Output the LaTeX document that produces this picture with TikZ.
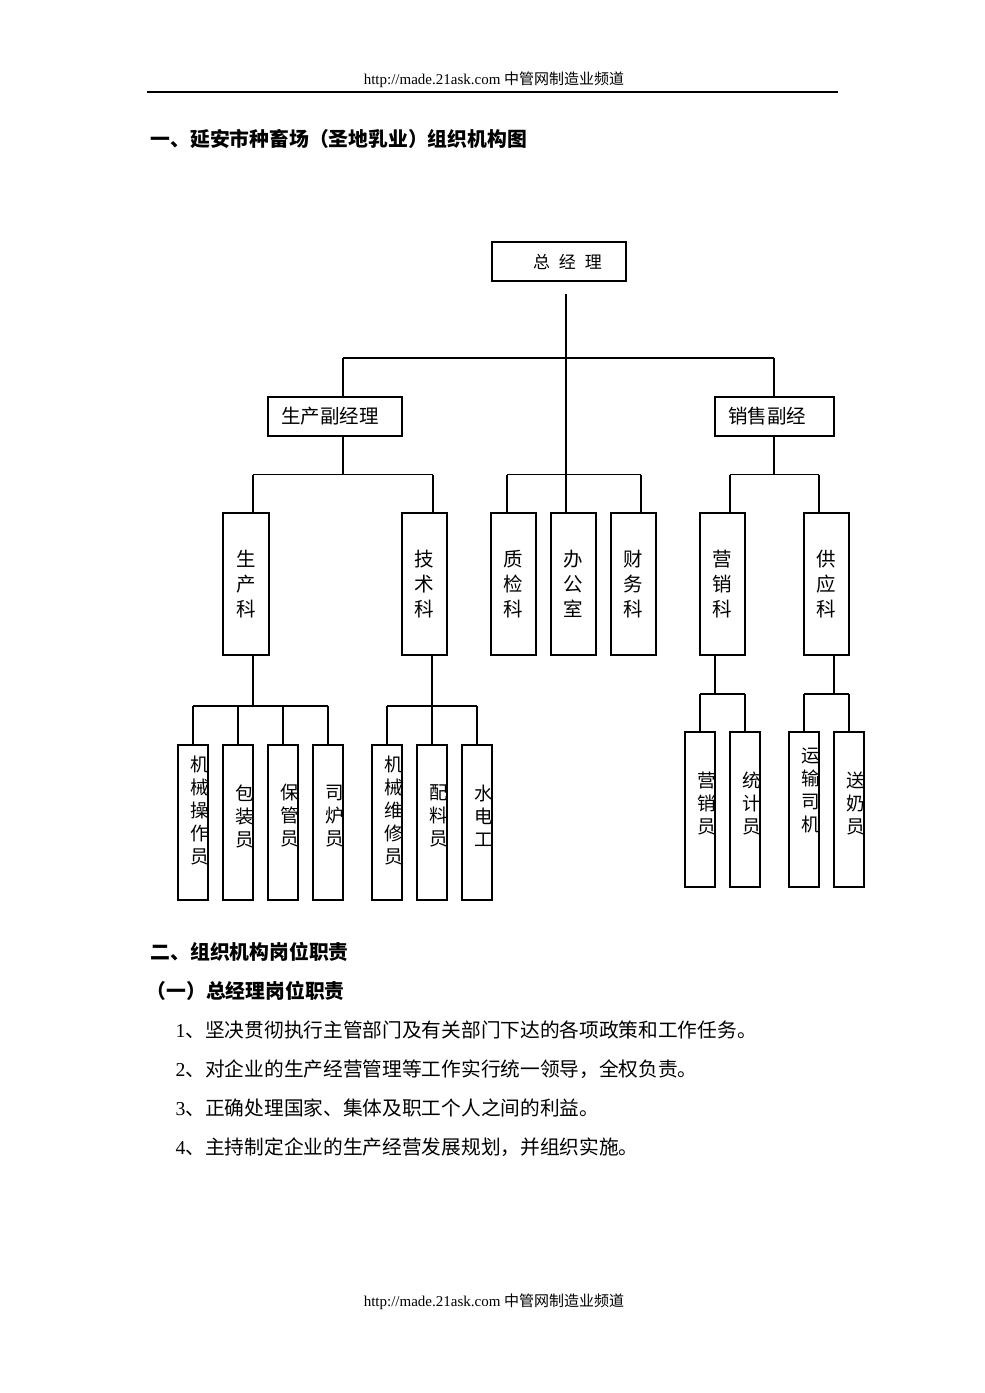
\documentclass[tikz,border=0pt]{standalone}
\usepackage{fontspec}
\setmainfont{Liberation Serif}
\newfontfamily\cjk{Noto Sans CJK SC}
\tikzset{
  box/.style={draw, line width=1.3pt, inner sep=0pt, align=center,
    font=\cjk\fontsize{19.5}{25}\selectfont},
  vpbox/.style={box, minimum height=39pt, text width=#1, inner xsep=13pt, align=left},
  dept/.style={box, minimum width=45pt, minimum height=142pt},
  leaf/.style={draw, line width=1.3pt, inner sep=0pt, minimum width=30pt, minimum height=155pt},
  leaftext/.style={inner sep=0pt, align=center, xshift=7pt,
    font=\cjk\fontsize{18.5}{23}\selectfont},
  head/.style={anchor=west, inner sep=0pt, font=\cjk\bfseries\fontsize{19.8}{24}\selectfont},
  item/.style={anchor=west, inner sep=0pt, font=\cjk\fontsize{19.7}{24}\selectfont},
  pagenote/.style={inner sep=0pt, font=\fontsize{15}{18}\selectfont}
}
\begin{document}
\begin{tikzpicture}[x=1pt, y=-1pt, line width=1.3pt]
  \useasboundingbox (0,0) rectangle (985,1393);

  % 页眉与页脚
  \node[pagenote] (hdr) at (494,80) {http://made.21ask.com {\cjk 中管网制造业频道}};
  \draw[line width=1.8pt] (147,92) coordinate (hl) -- (838,92) coordinate (hr);
  \node[pagenote] (ftr) at (494,1302) {http://made.21ask.com {\cjk 中管网制造业频道}};

  % 标题
  \node[head] (t1) at (150,139) {一、延安市种畜场（圣地乳业）组织机构图};

  % 领导层
  \node[box, minimum width=134pt, minimum height=39pt, align=left,
        font=\cjk\fontsize{17}{20}\selectfont] (zjl) at (559,261.5)
        {\hspace*{17pt}总\hspace{9pt}经\hspace{9pt}理};
  \node[vpbox=108pt] (scfj) at (335,416.5) {生产副经理};
  \node[vpbox=93pt] (xsfj) at (774.5,416.5) {销售副经};

  % 各科室
  \node[dept, minimum width=46pt] (sck) at (246,584) {生\\产\\科};
  \node[dept] (jsk) at (424.5,584) {技\\术\\科};
  \node[dept] (zjk) at (513.5,584) {质\\检\\科};
  \node[dept] (bgs) at (573.5,584) {办\\公\\室};
  \node[dept] (cwk) at (633.5,584) {财\\务\\科};
  \node[dept] (yxk) at (722.5,584) {营\\销\\科};
  \node[dept] (gyk) at (826.5,584) {供\\应\\科};

  % 基层岗位
  \node[leaf, label={[leaftext, yshift=12.5pt]center:机\\械\\操\\作\\员}] (jxcz) at (193,822.5) {};
  \node[leaf, label={[leaftext, yshift=6.5pt]center:包\\装\\员}] (bzy) at (238,822.5) {};
  \node[leaf, label={[leaftext, yshift=6.5pt]center:保\\管\\员}] (bgy) at (283,822.5) {};
  \node[leaf, label={[leaftext, yshift=6.5pt]center:司\\炉\\员}] (sly) at (328,822.5) {};
  \node[leaf, label={[leaftext, yshift=12.5pt]center:机\\械\\维\\修\\员}] (jxwx) at (387,822.5) {};
  \node[leaf, label={[leaftext, yshift=6.5pt]center:配\\料\\员}] (ply) at (432,822.5) {};
  \node[leaf, label={[leaftext, yshift=6.5pt]center:水\\电\\工}] (sdg) at (477,822.5) {};
  \node[leaf, label={[leaftext, yshift=6.5pt]center:营\\销\\员}] (yxy) at (700,809.5) {};
  \node[leaf, label={[leaftext, yshift=6.5pt]center:统\\计\\员}] (tjy) at (745,809.5) {};
  \node[leaf, label={[leaftext, yshift=19pt]center:运\\输\\司\\机}] (yssj) at (804,809.5) {};
  \node[leaf, label={[leaftext, yshift=6.5pt]center:送\\奶\\员}] (sny) at (849,809.5) {};

  % 连线：总经理以下
  \coordinate (top) at (566,294);
  \draw (top) -- (top |- bgs.north);
  \draw (343,358) -- (774,358);
  \draw (343,358) -- (343,358 |- scfj.north);
  \draw (774,358) -- (774,358 |- xsfj.north);

  % 连线：副经理以下
  \draw (343,358 |- scfj.south) -- (343,474.5);
  \draw (774,358 |- xsfj.south) -- (774,474.5);
  \draw (253,474.5) -- (433,474.5);
  \draw (507,474.5) -- (641,474.5);
  \draw (730,474.5) -- (819,474.5);
  \foreach \x/\n in {253/sck, 433/jsk, 507/zjk, 641/cwk, 730/yxk, 819/gyk}
    \draw (\x,474.5) -- (\x,474.5 |- \n.north);

  % 连线：科室以下
  \draw (253,0 |- sck.south) -- (253,706);
  \draw (432,0 |- jsk.south) -- (432,706);
  \draw (715,0 |- yxk.south) -- (715,694);
  \draw (834,0 |- gyk.south) -- (834,694);
  \draw (193,706) -- (328,706);
  \draw (387,706) -- (477,706);
  \draw (700,694) -- (745,694);
  \draw (804,694) -- (849,694);
  \foreach \x/\n in {193/jxcz, 238/bzy, 283/bgy, 328/sly, 387/jxwx, 432/ply, 477/sdg}
    \draw (\x,706) -- (\n.north);
  \foreach \x/\n in {700/yxy, 745/tjy, 804/yssj, 849/sny}
    \draw (\x,694) -- (\n.north);

  % 岗位职责
  \node[head] (t2) at (150,952) {二、组织机构岗位职责};
  \node[head] (t3) at (146,991) {（一）总经理岗位职责};
  \node[item] (i1) at (175,1030) {{\rmfamily 1}、坚决贯彻执行主管部门及有关部门下达的各项政策和工作任务。};
  \node[item] (i2) at (175,1069) {{\rmfamily 2}、对企业的生产经营管理等工作实行统一领导，全权负责。};
  \node[item] (i3) at (175,1108) {{\rmfamily 3}、正确处理国家、集体及职工个人之间的利益。};
  \node[item] (i4) at (175,1147) {{\rmfamily 4}、主持制定企业的生产经营发展规划，并组织实施。};
\end{tikzpicture}
\end{document}
